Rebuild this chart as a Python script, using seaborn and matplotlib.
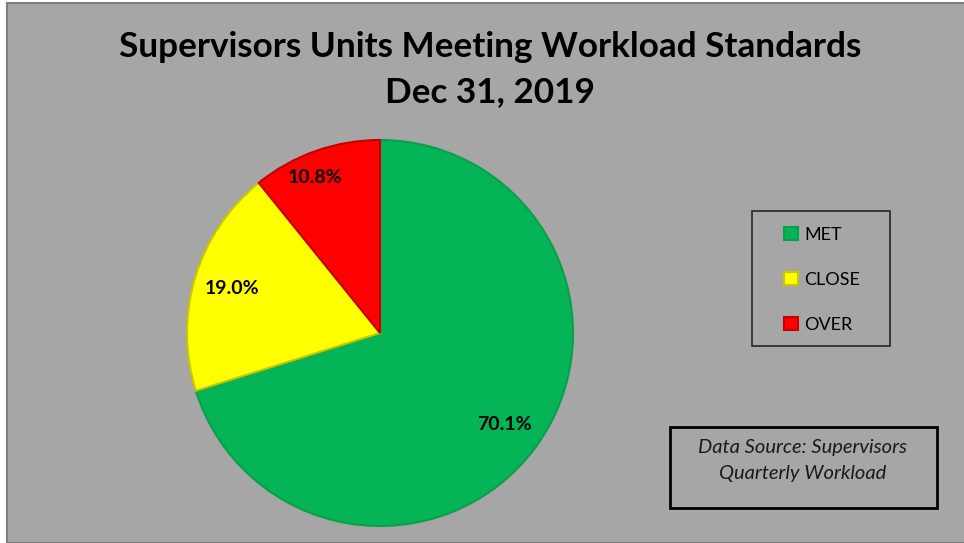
import matplotlib
matplotlib.use("Agg")
import matplotlib.pyplot as plt
from matplotlib.patches import Rectangle
import seaborn as sns

# data
categories = ["MET", "CLOSE", "OVER"]
percents = [70.1, 19.0, 10.8]
colors = ["#05B456", "#FFFF00", "#FF0000"]
edge_colors = ["#08A04A", "#C8C800", "#C80000"]

sns.set_theme(style="white")
plt.rcParams["font.family"] = ["Lato", "DejaVu Sans"]

W, H = 964, 543
fig = plt.figure(figsize=(W / 100, H / 100), dpi=100)
fig.patch.set_facecolor("white")

# gray chart area with thin border
fig.patches.append(Rectangle((7 / W, 0), 1, 1 - 3 / H, transform=fig.transFigure,
                             facecolor="#A6A6A6", edgecolor="#7F7F7F", lw=1.5, zorder=-5))

# title
fig.text(490 / W, 1 - 47 / H, "Supervisors Units Meeting Workload Standards",
         ha="center", va="center", fontsize=25.3, fontweight="bold", color="black")
fig.text(490 / W, 1 - 92 / H, "Dec 31, 2019",
         ha="center", va="center", fontsize=25.3, fontweight="bold", color="black")

# pie: center (380, 333), radius 193 px
cx, cy, r = 380, 333, 193
ax = fig.add_axes([(cx - r) / W, 1 - (cy + r) / H, 2 * r / W, 2 * r / H])
ax.set_facecolor("none")
ax.set_zorder(2)

labels_iter = iter(f"{v:.1f}%" for v in percents)
wedges, texts, autotexts = ax.pie(
    percents,
    colors=colors,
    startangle=90,
    counterclock=False,
    autopct=lambda p: next(labels_iter),
    pctdistance=0.8,
    wedgeprops=dict(linewidth=1.5),
    textprops=dict(fontsize=14, fontweight="bold", color="black"),
    radius=1,
)
for w, ec in zip(wedges, edge_colors):
    w.set_edgecolor(ec)

# nudge the small slice label outward a bit
x, y = autotexts[2].get_position()
autotexts[2].set_position((x * 1.07 - 0.05, y * 1.07))

ax.set_xlim(-1, 1)
ax.set_ylim(-1, 1)
ax.axis("off")

# legend box
fig.patches.append(Rectangle((752 / W, 1 - 346 / H), 138 / W, 135 / H,
                             transform=fig.transFigure, facecolor="none",
                             edgecolor="#262626", lw=1.2, zorder=1))
leg = fig.legend(
    wedges, categories,
    loc="center",
    bbox_to_anchor=(822 / W, 1 - 280 / H),
    frameon=False,
    fontsize=13,
    handlelength=0.75,
    handleheight=0.75,
    handletextpad=0.35,
    labelspacing=1.6,
    borderaxespad=0,
)
for t in leg.get_texts():
    t.set_color("black")

# data source box
fig.patches.append(Rectangle((670 / W, 1 - 508 / H), 267 / W, 81 / H,
                             transform=fig.transFigure, facecolor="none",
                             edgecolor="black", lw=2, zorder=1))
fig.text(803 / W, 1 - 448 / H, "Data Source: Supervisors",
         ha="center", va="center", fontsize=14.5, style="italic", color="#1a1a1a")
fig.text(803 / W, 1 - 474 / H, "Quarterly Workload",
         ha="center", va="center", fontsize=14.5, style="italic", color="#1a1a1a")

fig.savefig("out.png", dpi=100, facecolor=fig.get_facecolor())
